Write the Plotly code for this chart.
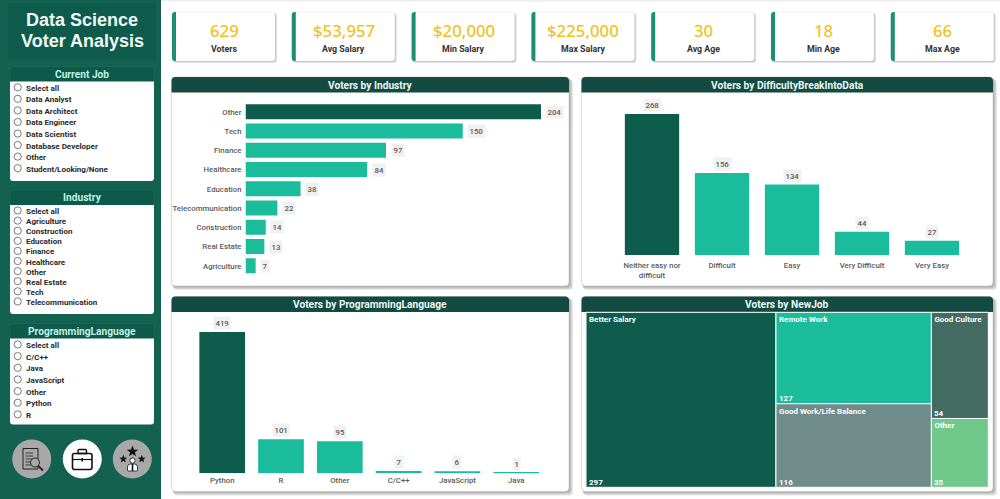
# dashboard recreation: Data Science Voter Analysis
import math
import plotly.graph_objects as go

W, H = 1000, 499

# data
kpi_values = ["629", "$53,957", "$20,000", "$225,000", "30", "18", "66"]
kpi_labels = ["Voters", "Avg Salary", "Min Salary", "Max Salary", "Avg Age", "Min Age", "Max Age"]

job_options = ["Select all", "Data Analyst", "Data Architect", "Data Engineer", "Data Scientist",
               "Database Developer", "Other", "Student/Looking/None"]
industry_options = ["Select all", "Agriculture", "Construction", "Education", "Finance",
                    "Healthcare", "Other", "Real Estate", "Tech", "Telecommunication"]
language_options = ["Select all", "C/C++", "Java", "JavaScript", "Other", "Python", "R"]

industries = ["Other", "Tech", "Finance", "Healthcare", "Education",
              "Telecommunication", "Construction", "Real Estate", "Agriculture"]
industry_votes = [204, 150, 97, 84, 38, 22, 14, 13, 7]

difficulty = ["Neither easy nor<br>difficult", "Difficult", "Easy", "Very Difficult", "Very Easy"]
difficulty_votes = [268, 156, 134, 44, 27]

languages = ["Python", "R", "Other", "C/C++", "JavaScript", "Java"]
language_votes = [419, 101, 95, 7, 6, 1]

new_jobs = ["Better Salary", "Remote Work", "Good Work/Life Balance", "Good Culture", "Other"]
new_job_votes = [297, 127, 116, 54, 35]

# colours
SIDEBAR = "#12624F"
TITLE_BG = "#0F5B4B"
SLICER_HEAD = "#0E5A4A"
HEADER = "#134A41"
DARK = "#0E5C4C"
TEAL = "#1ABC9C"
YELLOW = "#F2C21F"
ACCENT = "#1E8E72"
LABEL = "#5A5A5A"
new_job_colors = [DARK, TEAL, "#6F8B8A", "#446B62", "#70C98B"]

BODY = "Noto Sans"
HEAD = "Roboto"


def px(x):
    return x / W


def py(y):
    return 1 - y / H


shapes = []
annotations = []


def path_shape(d, fill=None, line=None, width=0):
    shape = dict(type="path", path=d, xref="paper", yref="paper", layer="below",
                 line=dict(width=width, color=line or "rgba(0,0,0,0)"))
    if fill:
        shape["fillcolor"] = fill
    shapes.append(shape)


def round_rect(x0, y0, x1, y1, tl=0, tr=0, br=0, bl=0, fill=None, line=None, width=0):
    # rounded corners are drawn with small quadratic curves
    d = (f"M{px(x0 + tl)},{py(y0)} L{px(x1 - tr)},{py(y0)} Q{px(x1)},{py(y0)} {px(x1)},{py(y0 + tr)} "
         f"L{px(x1)},{py(y1 - br)} Q{px(x1)},{py(y1)} {px(x1 - br)},{py(y1)} "
         f"L{px(x0 + bl)},{py(y1)} Q{px(x0)},{py(y1)} {px(x0)},{py(y1 - bl)} "
         f"L{px(x0)},{py(y0 + tl)} Q{px(x0)},{py(y0)} {px(x0 + tl)},{py(y0)} Z")
    path_shape(d, fill, line, width)


def circle(cx, cy, r, fill=None, line=None, width=0):
    shape = dict(type="circle", xref="paper", yref="paper", layer="below",
                 x0=px(cx - r), x1=px(cx + r), y0=py(cy + r), y1=py(cy - r),
                 line=dict(width=width, color=line or "rgba(0,0,0,0)"))
    if fill:
        shape["fillcolor"] = fill
    shapes.append(shape)


def segment(x0, y0, x1, y1, color="#111111", width=1):
    shapes.append(dict(type="line", xref="paper", yref="paper", layer="below",
                       x0=px(x0), x1=px(x1), y0=py(y0), y1=py(y1),
                       line=dict(color=color, width=width)))


def shadow(x0, y0, x1, y1, r=3, spread=4, alpha=0.09):
    for i in range(spread, 0, -1):
        round_rect(x0 + i * 0.4, y0 + i * 0.6, x1 + i, y1 + i, r, r, r, r, fill=f"rgba(0,0,0,{alpha})")


def text(x, y, s, size, color, font=BODY, anchor="center", bold=True, weight=None):
    f = dict(size=size, color=color, family=font)
    if weight:
        f["weight"] = weight
    annotations.append(dict(x=px(x), y=py(y), xref="paper", yref="paper", showarrow=False,
                            text=f"<b>{s}</b>" if bold else s, xanchor=anchor, yanchor="middle",
                            font=f, borderpad=0))


# page and sidebar
round_rect(0, 0, 1000, 1.5, fill="#EDEDED")
round_rect(0, 0, 161, 499, fill=SIDEBAR)
round_rect(8, 3, 156, 60, fill=TITLE_BG)
text(82, 20, "Data Science", 18, "#EFFAF6", font="Liberation Sans")
text(82, 41, "Voter Analysis", 18, "#EFFAF6", font="Liberation Sans")


def slicer(title, options, head_top, head_bottom, bottom, first_y, step):
    round_rect(10, head_top, 154, head_bottom + 2, 3, 3, 0, 0, fill=SLICER_HEAD, line="#2A7566", width=0.4)
    round_rect(10, head_bottom, 154, bottom, 0, 0, 3, 3, fill="#FFFFFF")
    text(82, (head_top + head_bottom) / 2, title, 10.2, "#BFEFE3", font=HEAD)
    for i, option in enumerate(options):
        y = first_y + i * step
        circle(17.7, y - 1, 3.6, fill="#FFFFFF", line="#444444", width=0.7)
        text(24.8, y, option, 8, "#2A2A2A", font=HEAD, anchor="left")


slicer("Current Job", job_options, 66.5, 81.5, 181, 88.3, 11.55)
slicer("Industry", industry_options, 190, 205, 314, 211.5, 10.1)
slicer("ProgrammingLanguage", language_options, 323.5, 338.5, 424.5, 345.5, 11.65)

# nav buttons
circle(31.7, 459, 19.5, fill="#A8A8A8")
circle(82.3, 459, 19.5, fill="#FFFFFF")
circle(132.3, 459, 19.5, fill="#A8A8A8")

# report with magnifier
round_rect(23, 448.5, 38, 469, line="#222222", width=1)
for ly in (453, 456, 459, 462, 465):
    segment(25.5, ly, 33, ly, "#222222", 0.8)
circle(35, 462.5, 4.5, fill="#A8A8A8", line="#222222", width=1)
segment(38.2, 465.8, 43, 470.5, "#222222", 1.8)

# briefcase
round_rect(72.5, 453.5, 92, 469.5, 2, 2, 2, 2, line="#111111", width=1.6)
round_rect(78, 449.5, 86.5, 453.5, 1, 1, 0, 0, line="#111111", width=1.4)
segment(72.5, 459.5, 92, 459.5, "#111111", 1.2)
segment(82.2, 458, 82.2, 461.5, "#111111", 1.6)


def star(cx, cy, r):
    pts = []
    for k in range(10):
        rad = r if k % 2 == 0 else r * 0.42
        a = -math.pi / 2 + k * math.pi / 5
        pts.append(f"{px(cx + rad * math.cos(a))},{py(cy + rad * math.sin(a))}")
    path_shape("M" + " L".join(pts) + " Z", fill="#111111")


star(132.5, 451.5, 6)
star(123.3, 459, 4.2)
star(141.7, 459, 4.2)
circle(132.5, 460.5, 2.6, fill="#FFFFFF", line="#111111", width=0.8)
round_rect(127.5, 464, 137.5, 471, 3, 3, 1, 1, fill="#FFFFFF", line="#111111", width=0.8)
segment(132.5, 464, 132.5, 471, "#111111", 1.6)

# KPI cards
for i, (value, label) in enumerate(zip(kpi_values, kpi_labels)):
    x0 = 172 + i * 119.8
    x1 = x0 + 103
    shadow(x0, 12, x1, 61, r=3, spread=2, alpha=0.12)
    round_rect(x0, 12, x1, 61, 3, 3, 3, 3, fill="#FFFFFF", line="#E4E4E4", width=0.5)
    round_rect(x0, 12, x0 + 4, 61, 3, 0, 0, 3, fill=ACCENT)
    text((x0 + x1) / 2 + 0.5, 31, value, 16.8, YELLOW, bold=False, weight=500)
    text((x0 + x1) / 2 + 0.5, 49, label, 8.8, "#333333", font=HEAD)


# chart panels
def panel(title, x0, y0, x1, y1):
    shadow(x0, y0, x1, y1, r=4, spread=4)
    round_rect(x0, y0, x1, y1, 4, 4, 4, 4, fill="#FFFFFF", line="#BDBDBD", width=0.5)
    round_rect(x0, y0, x1, y0 + 15.5, 4, 4, 0, 0, fill=HEADER)
    text((x0 + x1) / 2, y0 + 8, title, 10.2, "#EAF7F3", font=HEAD)


panel("Voters by Industry", 171.5, 77, 569, 286)
panel("Voters by DifficultyBreakIntoData", 581.5, 77, 993, 286)
panel("Voters by ProgrammingLanguage", 171.5, 296.5, 569, 491.5)
panel("Voters by NewJob", 581.5, 296.5, 993, 491.5)

fig = go.Figure()


def highlight(values):
    return [DARK if v == max(values) else TEAL for v in values]


def value_label(axis, x, y, value, horizontal):
    annotations.append(dict(
        x=x, y=y, xref="x" + axis, yref="y" + axis, showarrow=False, text=str(value),
        xanchor="left" if horizontal else "center", yanchor="middle" if horizontal else "bottom",
        xshift=4.5 if horizontal else 0, yshift=0 if horizontal else 2,
        font=dict(size=7.8, color=LABEL, family=HEAD, weight=500), bgcolor="#F1F1F1", borderpad=1.5))


# horizontal bars
fig.add_trace(go.Bar(x=industry_votes, y=industries, orientation="h", xaxis="x", yaxis="y",
                     marker=dict(color=highlight(industry_votes), line=dict(width=0)), width=0.78,
                     hoverinfo="skip"))
for name, votes in zip(industries, industry_votes):
    value_label("", votes, name, votes, True)

# difficulty columns
fig.add_trace(go.Bar(x=difficulty, y=difficulty_votes, xaxis="x2", yaxis="y2",
                     marker=dict(color=highlight(difficulty_votes), line=dict(width=0)), width=0.776,
                     hoverinfo="skip"))
for name, votes in zip(difficulty, difficulty_votes):
    value_label("2", name, votes, votes, False)

# language columns
fig.add_trace(go.Bar(x=languages, y=language_votes, xaxis="x3", yaxis="y3",
                     marker=dict(color=highlight(language_votes), line=dict(width=0)), width=0.777,
                     hoverinfo="skip"))
for name, votes in zip(languages, language_votes):
    value_label("3", name, votes, votes, False)

# treemap
TM_X0, TM_X1, TM_Y0, TM_Y1 = 586, 988.3, 312.3, 487.3
fig.add_trace(go.Treemap(
    labels=new_jobs, parents=[""] * len(new_jobs), values=new_job_votes,
    domain=dict(x=[px(TM_X0), px(TM_X1)], y=[py(TM_Y1), py(TM_Y0)]),
    marker=dict(colors=new_job_colors, line=dict(color="#FFFFFF", width=1), pad=dict(t=0, l=0, r=0, b=0)),
    texttemplate="<b>%{label}</b>", textposition="top left",
    textfont=dict(size=8, color="#FFFFFF", family=HEAD),
    tiling=dict(pad=0), pathbar=dict(visible=False), sort=True, hoverinfo="skip"))

# value captions sit in the bottom left corner of each cell
total = sum(new_job_votes)
tm_w = TM_X1 - TM_X0
tm_h = TM_Y1 - TM_Y0
col1 = TM_X0 + tm_w * new_job_votes[0] / total
col2 = col1 + tm_w * (new_job_votes[1] + new_job_votes[2]) / total
split1 = TM_Y0 + tm_h * new_job_votes[1] / (new_job_votes[1] + new_job_votes[2])
split2 = TM_Y0 + tm_h * new_job_votes[3] / (new_job_votes[3] + new_job_votes[4])
corners = [(TM_X0, TM_Y1), (col1, split1), (col1, TM_Y1), (col2, split2), (col2, TM_Y1)]
for (cx, cy), votes in zip(corners, new_job_votes):
    text(cx + 2, cy - 5, votes, 8, "#FFFFFF", font=HEAD, anchor="left")

tick_font = dict(size=7.8, color=LABEL, family=HEAD, weight=500)
hidden = dict(showgrid=False, zeroline=False, showticklabels=False, showline=False, ticks="")
fig.update_layout(
    width=W, height=H, margin=dict(l=0, r=0, t=0, b=0, pad=0), autosize=False,
    paper_bgcolor="#FFFFFF", plot_bgcolor="rgba(0,0,0,0)", showlegend=False,
    shapes=shapes, annotations=annotations, bargap=0.22,
    xaxis=dict(domain=[px(245.5), px(563)], range=[0, 219.2], **hidden),
    yaxis=dict(domain=[py(275.4), py(102.2)], categoryorder="array",
               categoryarray=industries[::-1], showgrid=False, zeroline=False, showline=False,
               ticks="", tickfont=tick_font, ticklabelstandoff=3),
    xaxis2=dict(domain=[px(617), px(967)], anchor="y2", showgrid=False, zeroline=False, showline=False,
                ticks="", tickfont=tick_font, tickangle=0, categoryorder="array", categoryarray=difficulty,
                ticklabelstandoff=4),
    yaxis2=dict(domain=[py(255), py(100)], range=[0, 294.6], anchor="x2", **hidden),
    xaxis3=dict(domain=[px(192.8), px(545.6)], anchor="y3", showgrid=False, zeroline=False, showline=False,
                ticks="", tickfont=tick_font, tickangle=0, categoryorder="array", categoryarray=languages,
                ticklabelstandoff=1),
    yaxis3=dict(domain=[py(473.3), py(318)], range=[0, 460.5], anchor="x3", **hidden),
)

fig.write_html("out.html", config=dict(displayModeBar=False),
               post_script="document.body.style.margin='0';document.documentElement.style.overflow='hidden';")
